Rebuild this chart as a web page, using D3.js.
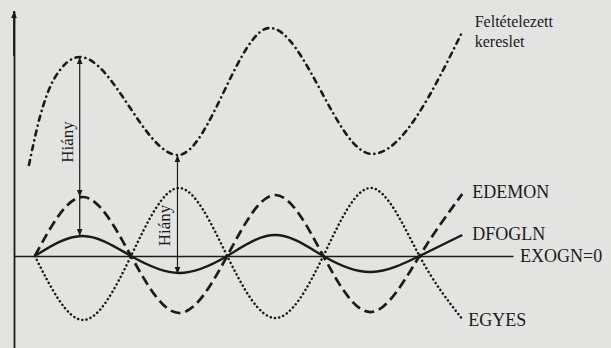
<!DOCTYPE html>
<html>
<head>
<meta charset="utf-8">
<script src="https://cdn.jsdelivr.net/npm/d3@7"></script>
<style>
  html, body { margin: 0; padding: 0; background: #e3e3e1; }
  svg text { font-family: "Liberation Serif", "DejaVu Serif", serif; fill: #1a1a1a; }
</style>
</head>
<body>
<div id="main"></div>
<script>
const phase = [0, 90, 180, 270, 360, 450, 540, 630, 720, 800];

const dfogln = [0, 20, 0, -17, 0, 21, 0, -16, 0, 21];     // solid
const edemon = [0, 59, 0, -57, 0, 61, 0, -56, 0, 62];     // dashed
const egyes  = [0, -64, 0, 68, 0, -62, 0, 68, 0, -63];    // dotted

// assumed demand (dash-dot), read along its rise and at its turning points
const demandPhase = [-11, 9, 37, 84, 268, 440, 631, 799];
const demand      = [91, 138, 178, 199, 101, 228, 102, 223];

// shortage arrows: [phase, from value, to value]
const gaps = [
    [84, 199, 59],
    [84, 59, 20],
    [267, 101, -18]
];

const labels = {
    demand: ['Feltételezett', 'kereslet'],
    edemon: 'EDEMON',
    dfogln: 'DFOGLN',
    exogn: 'EXOGN=0',
    egyes: 'EGYES',
    gap: 'Hiány'
};

const w = 611;
const h = 348;
const ink = '#1a1a1a';

const svg = d3.select('#main')
        .append('svg')
        .attr('width', w)
        .attr('height', h);

svg.append('defs')
    .append('marker')       // arrow head
    .attr('id', 'head')
    .attr('viewBox', '0 0 10 10')
    .attr('refX', 10)
    .attr('refY', 5)
    .attr('markerWidth', 7)
    .attr('markerHeight', 7)
    .attr('markerUnits', 'userSpaceOnUse')
    .attr('orient', 'auto-start-reverse')
    .append('path')
    .attr('d', 'M0,1 L10,5 L0,9 Z')
    .attr('fill', ink);

const xScale = d3.scaleLinear()
        .domain([-39, 895])
        .range([14, 513]);

const yScale = d3.scaleLinear()
        .domain([-92, 245])
        .range([h, 11]);

// axes, no ticks
const xAxis = svg.append('g')
    .attr('transform', 'translate(0,' + yScale(0) + ')')
    .call(d3.axisBottom(xScale).tickValues([]).tickSizeOuter(0));
xAxis.select('.domain').attr('stroke', ink).attr('stroke-width', 1.6);

const yAxis = svg.append('g')
    .attr('transform', 'translate(' + xScale(-39) + ',0)')
    .call(d3.axisLeft(yScale).tickValues([]).tickSizeOuter(0));
yAxis.select('.domain').attr('stroke', ink).attr('stroke-width', 1.8);

// arrow on the vertical axis
svg.append('line')
    .attr('x1', xScale(-39)).attr('x2', xScale(-39))
    .attr('y1', yScale(200)).attr('y2', yScale(245))
    .attr('stroke', ink).attr('stroke-width', 1.8)
    .attr('marker-end', 'url(#head)');

const lineOf = (xs, curve) => d3.line()
        .x((d, i) => xScale(xs[i]))
        .y(d => yScale(d))
        .curve(curve);

const series = [
    { vals: egyes, dash: '0.1,4.2', width: 2.5, cap: 'round' },
    { vals: edemon, dash: '10,5', width: 2.7, cap: 'butt' },
    { vals: dfogln, dash: null, width: 2.4, cap: 'butt' }
];

series.forEach(s => {
    svg.append('path')
        .attr('d', lineOf(phase, d3.curveNatural)(s.vals))
        .attr('fill', 'none')
        .attr('stroke', ink)
        .attr('stroke-width', s.width)
        .attr('stroke-linecap', s.cap)
        .attr('stroke-dasharray', s.dash);
});

svg.append('path')          // dash-dot demand
    .attr('d', lineOf(demandPhase, d3.curveMonotoneX)(demand))
    .attr('fill', 'none')
    .attr('stroke', ink)
    .attr('stroke-width', 2.6)
    .attr('stroke-linecap', 'round')
    .attr('stroke-dasharray', '5,5,0.1,5');

// shortage arrows
svg.selectAll('.gap')
    .data(gaps)
    .enter()
    .append('line')
    .attr('class', 'gap')
    .attr('x1', d => xScale(d[0]))
    .attr('x2', d => xScale(d[0]))
    .attr('y1', d => yScale(d[1]))
    .attr('y2', d => yScale(d[2]))
    .attr('stroke', ink)
    .attr('stroke-width', 1.2)
    .attr('marker-start', (d, i) => i === 1 ? null : 'url(#head)')
    .attr('marker-end', 'url(#head)');

// "Hiány" labels, rotated beside the long arrows
[gaps[0], gaps[2]].forEach(d => {
    const cx = xScale(d[0]) - 7;
    const mid = d === gaps[0] ? yScale(d[1]) + 85 : (yScale(d[1]) + yScale(d[2])) / 2 + 11;
    svg.append('text')
        .attr('transform', 'translate(' + cx + ',' + mid + ') rotate(-90)')
        .attr('text-anchor', 'middle')
        .attr('font-size', 17)
        .text(labels.gap);
});

// curve labels at line ends
const last = a => a[a.length - 1];
const endX = xScale(last(phase));

svg.append('text')
    .attr('x', endX + 10).attr('y', yScale(last(edemon)) + 4)
    .attr('font-size', 18)
    .text(labels.edemon);

svg.append('text')
    .attr('x', endX + 10).attr('y', yScale(last(dfogln)) + 5)
    .attr('font-size', 18)
    .text(labels.dfogln);

svg.append('text')
    .attr('x', endX + 6).attr('y', yScale(last(egyes)) + 7)
    .attr('font-size', 18)
    .text(labels.egyes);

svg.append('text')
    .attr('x', xScale(895) + 7).attr('y', yScale(0) + 6)
    .attr('font-size', 18)
    .text(labels.exogn);

const demandX = xScale(last(demandPhase)) + 13;
svg.append('text')
    .attr('y', yScale(last(demand)) - 6)
    .attr('font-size', 16)
    .selectAll('tspan')
    .data(labels.demand)
    .enter()
    .append('tspan')
    .attr('x', demandX)
    .attr('dy', (d, i) => i === 0 ? 0 : 20)
    .text(d => d);
</script>
</body>
</html>
